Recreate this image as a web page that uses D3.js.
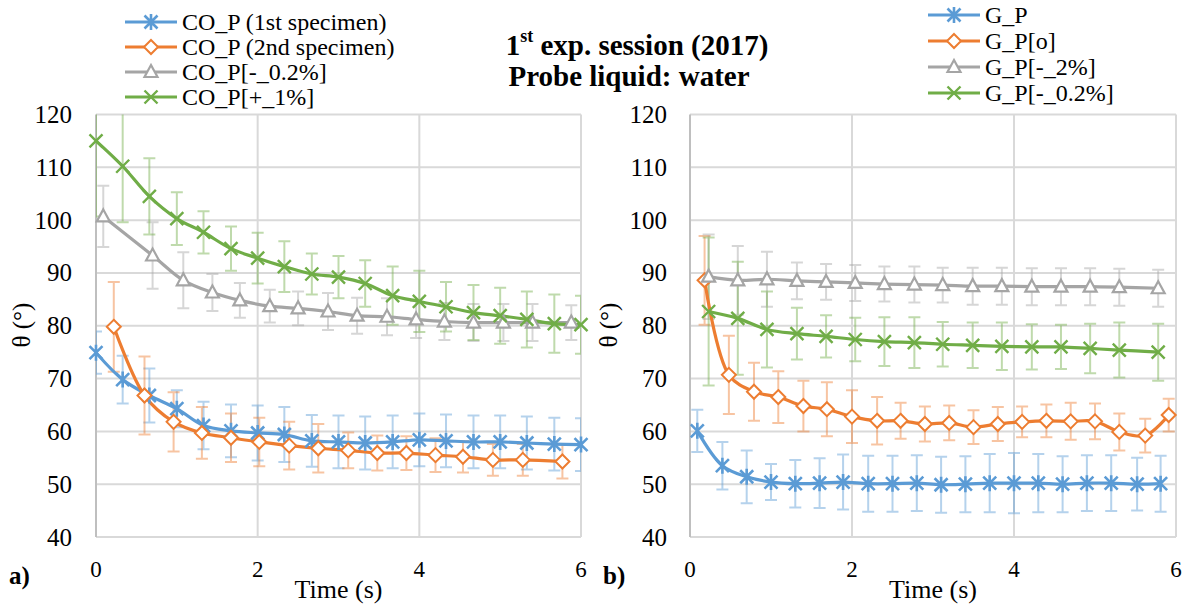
<!DOCTYPE html>
<html><head><meta charset="utf-8">
<script src="https://cdn.jsdelivr.net/npm/d3@7"></script>
<style>body{margin:0;background:#fff}svg{display:block}text{font-family:"Liberation Serif","Times New Roman",serif;fill:#000}</style>
</head><body><svg id="c" width="1189" height="605" font-family="Liberation Serif, Times New Roman, serif"></svg>
<script>
// ---------- data ----------
const xTicks = [0, 2, 4, 6];
const yTicks = [40, 50, 60, 70, 80, 90, 100, 110, 120];

// panel a)
const coP1_x = [0,0.33,0.66,1,1.33,1.67,2,2.33,2.67,3,3.33,3.67,4,4.33,4.67,5,5.33,5.67,6];
const coP1_y = [74.9,69.8,66.8,64.3,61.1,60.1,59.7,59.4,58.2,58.0,57.8,58.0,58.4,58.2,58.0,58.0,57.8,57.6,57.5];
const coP1_e = [4,4.5,5.1,3.5,4.5,5,5.2,5.2,4.9,5,5,5,5,5,5,5,5,5,5];

const coP2_x = [0.22,0.6,0.96,1.31,1.67,2.02,2.39,2.75,3.12,3.48,3.84,4.2,4.54,4.91,5.28,5.77];
const coP2_y = [79.8,66.8,61.8,59.7,58.8,58.0,57.3,56.8,56.4,55.9,55.9,55.5,55.2,54.6,54.6,54.3];
const coP2_e = [8.5,7.4,5.6,4.9,4.6,4.6,4.5,4.6,3.4,3.3,3.2,3.2,3,3,3,3.2];

const coPm02_x = [0.09,0.7,1.08,1.44,1.78,2.15,2.5,2.87,3.23,3.6,3.96,4.31,4.67,5.04,5.4,5.88];
const coPm02_y = [100.7,93.3,88.6,86.3,84.8,83.7,83.3,82.7,81.9,81.7,81.2,80.8,80.6,80.6,80.6,80.6];
const coPm02_e = [5.8,6.3,5.3,3.5,3.3,3.1,3.2,3.5,3.4,3.5,3.5,3.5,3.5,3.5,3.5,3.3];

const coPp1_x = [0,0.33,0.66,1,1.33,1.67,2,2.33,2.67,3,3.33,3.67,4,4.33,4.67,5,5.33,5.67,6];
const coPp1_y = [115,110.2,104.5,100.3,97.7,94.6,92.8,91.2,89.8,89.2,88,85.7,84.6,83.6,82.5,81.9,81.2,80.4,80.2];
const coPp1_e = [14.3,10.6,7.2,5,4,4.2,4.8,4.8,3.9,4,4.4,5.5,5.8,4.7,5.2,5.3,5.3,5.5,5.5];

// panel b)
const gP_x = [0.09,0.4,0.7,1.0,1.3,1.6,1.89,2.2,2.5,2.8,3.1,3.4,3.7,4.0,4.3,4.6,4.9,5.2,5.52,5.81];
const gP_y = [60.1,53.5,51.4,50.4,50.1,50.2,50.4,50.1,50.1,50.2,49.9,50.0,50.2,50.2,50.2,50.0,50.2,50.2,50.0,50.1];
const gP_e = [4,4.5,5,3.4,4.5,4.7,5.2,5.3,5.3,5.3,5.3,5.3,5.5,5.7,5.5,5.3,5.3,5.3,5,5.3];

const gPo_x = [0.18,0.48,0.79,1.09,1.4,1.69,2.0,2.31,2.6,2.9,3.2,3.5,3.8,4.1,4.4,4.7,5.0,5.3,5.62,5.91];
const gPo_y = [88.6,70.7,67.5,66.5,64.8,64.2,62.8,62.0,62.0,61.4,61.6,60.8,61.4,61.8,62.0,61.9,61.9,59.9,59.2,63.1];
const gPo_e = [8.4,7.4,5.5,4.9,4.8,5.1,5,4.5,3.4,3.3,3.3,3.2,3.2,2.9,3.1,3.5,3.4,3.5,3.2,3.1];

const gPm2_x = [0.23,0.59,0.95,1.32,1.68,2.04,2.4,2.77,3.12,3.49,3.85,4.22,4.58,4.94,5.3,5.78];
const gPm2_y = [89.3,88.6,88.8,88.5,88.3,88.1,87.9,87.8,87.7,87.5,87.5,87.4,87.4,87.4,87.3,87.1];
const gPm2_e = [8,6.5,5.2,3.5,3.4,3.4,3.3,3.4,3.3,3.5,3.5,3.5,3.5,3.5,3.5,3.5];

const gPm02_x = [0.23,0.59,0.95,1.32,1.68,2.04,2.4,2.77,3.12,3.49,3.85,4.22,4.58,4.94,5.3,5.78];
const gPm02_y = [82.7,81.4,79.3,78.5,78.0,77.4,77.0,76.8,76.5,76.3,76.1,76.0,76.0,75.7,75.4,75.0];
const gPm02_e = [14,10.7,7.2,4.9,4,4.1,4.6,4.8,4.2,4.3,4.5,4.3,4.2,4.7,5.2,5.4];

const namesA = ["CO_P (1st specimen)", "CO_P (2nd specimen)", "CO_P[-_0.2%]", "CO_P[+_1%]"];
const namesB = ["G_P", "G_P[o]", "G_P[-_2%]", "G_P[-_0.2%]"];
const colors = ["#5B9BD5", "#ED7D31", "#A5A5A5", "#70AD47"];
const markers = ["star", "diamond", "triangle", "x"];

const seriesA = [[coP1_x,coP1_y,coP1_e],[coP2_x,coP2_y,coP2_e],[coPm02_x,coPm02_y,coPm02_e],[coPp1_x,coPp1_y,coPp1_e]];
const seriesB = [[gP_x,gP_y,gP_e],[gPo_x,gPo_y,gPo_e],[gPm2_x,gPm2_y,gPm2_e],[gPm02_x,gPm02_y,gPm02_e]];

// ---------- drawing ----------
const FONT = "Liberation Serif, Times New Roman, serif";
const svg = d3.select("#c");

function drawMarker(g, type, cx, cy, color) {
  const s = 6.5;
  if (type === "star") {
    const p = d3.path();
    p.moveTo(cx - s, cy - s); p.lineTo(cx + s, cy + s);
    p.moveTo(cx - s, cy + s); p.lineTo(cx + s, cy - s);
    p.moveTo(cx, cy - s - 1.5); p.lineTo(cx, cy + s + 1.5);
    g.append("path").attr("d", p.toString()).attr("stroke", color).attr("stroke-width", 2.6).attr("fill", "none");
  } else if (type === "x") {
    const p = d3.path();
    p.moveTo(cx - s, cy - s); p.lineTo(cx + s, cy + s);
    p.moveTo(cx - s, cy + s); p.lineTo(cx + s, cy - s);
    g.append("path").attr("d", p.toString()).attr("stroke", color).attr("stroke-width", 2.4).attr("fill", "none");
  } else if (type === "diamond") {
    const d = 7;
    g.append("path").attr("d", `M${cx},${cy-d}L${cx+d},${cy}L${cx},${cy+d}L${cx-d},${cy}Z`)
      .attr("stroke", color).attr("stroke-width", 2).attr("fill", "#fff");
  } else if (type === "triangle") {
    g.append("path").attr("d", `M${cx},${cy-7}L${cx+6.5},${cy+5}L${cx-6.5},${cy+5}Z`)
      .attr("stroke", color).attr("stroke-width", 2.2).attr("fill", "#fff");
  }
}

function panel(id, x0, x1, series, label, yLabelX, yAxisLabelX, labelX) {
  const x = d3.scaleLinear().domain([0, 6]).range([x0, x1]);
  const y = d3.scaleLinear().domain([40, 120]).range([537, 114.5]);
  const g = svg.append("g").attr("font-family", FONT);

  g.append("defs").append("clipPath").attr("id", "clip" + id)
    .append("rect").attr("x", x0).attr("y", y(120)).attr("width", x1 - x0).attr("height", y(40) - y(120));

  // gridlines
  g.append("g").selectAll("line").data(yTicks).join("line")
    .attr("x1", x0).attr("x2", x1).attr("y1", d => y(d)).attr("y2", d => y(d))
    .attr("stroke", "#d9d9d9").attr("stroke-width", 2);
  g.append("g").selectAll("line").data(xTicks.slice(1)).join("line")
    .attr("x1", d => x(d)).attr("x2", d => x(d)).attr("y1", y(120)).attr("y2", y(40))
    .attr("stroke", "#d9d9d9").attr("stroke-width", 2);
  g.append("line").attr("x1", x0).attr("x2", x0).attr("y1", y(120)).attr("y2", y(40))
    .attr("stroke", "#bfbfbf").attr("stroke-width", 2);

  // tick labels
  g.append("g").selectAll("text").data(yTicks).join("text")
    .attr("x", yLabelX).attr("y", d => y(d)).attr("dy", "0.34em").attr("text-anchor", "end")
    .attr("font-size", 25).text(d => d);
  g.append("g").selectAll("text").data(xTicks).join("text")
    .attr("x", d => x(d)).attr("y", 577).attr("text-anchor", "middle")
    .attr("font-size", 23).text(d => d);
  g.append("text").attr("x", (x0 + x1) / 2).attr("y", 598).attr("text-anchor", "middle")
    .attr("font-size", 26).text("Time (s)");
  g.append("text").attr("transform", `translate(${yAxisLabelX},325) rotate(-90)`)
    .attr("text-anchor", "middle").attr("font-size", 25).text("θ (°)");
  g.append("text").attr("x", labelX).attr("y", 584).attr("font-size", 25).attr("font-weight", "bold").text(label);

  const plot = g.append("g").attr("clip-path", `url(#clip${id})`);
  // error bars
  series.forEach((s, i) => {
    const [xs, ys, es] = s;
    const eg = plot.append("g").attr("stroke", colors[i]).attr("stroke-opacity", 0.45).attr("stroke-width", 2).attr("fill", "none");
    xs.forEach((xv, k) => {
      const cx = x(xv), t = y(ys[k] + es[k]), b = y(ys[k] - es[k]);
      eg.append("path").attr("d", `M${cx},${t}L${cx},${b}M${cx-6},${t}L${cx+6},${t}M${cx-6},${b}L${cx+6},${b}`);
    });
  });
  // lines and markers
  series.forEach((s, i) => {
    const [xs, ys] = s;
    const pts = xs.map((xv, k) => [x(xv), y(ys[k])]);
    plot.append("path").attr("d", d3.line().curve(d3.curveCatmullRom.alpha(0.5))(pts))
      .attr("stroke", colors[i]).attr("stroke-width", 3.2).attr("fill", "none");
  });
  series.forEach((s, i) => {
    const [xs, ys] = s;
    const mg = g.append("g");
    xs.forEach((xv, k) => drawMarker(mg, markers[i], x(xv), y(ys[k]), colors[i]));
  });
}

panel("a", 96, 581, seriesA, "a)", 72, 30, 9);
panel("b", 690, 1176, seriesB, "b)", 667, 617, 603);

// legends
function legend(names, lx0, lx1, tx, ys) {
  const g = svg.append("g").attr("font-family", FONT);
  names.forEach((n, i) => {
    g.append("line").attr("x1", lx0).attr("x2", lx1).attr("y1", ys[i]).attr("y2", ys[i])
      .attr("stroke", colors[i]).attr("stroke-width", 3.2);
    drawMarker(g, markers[i], (lx0 + lx1) / 2, ys[i], colors[i]);
    g.append("text").attr("x", tx).attr("y", ys[i]).attr("dy", "0.34em").attr("font-size", 24).text(n);
  });
}
legend(namesA, 125, 177, 182, [22, 47, 72, 97]);
legend(namesB, 928, 980, 985, [15, 41, 67, 93]);

// title
const t1 = svg.append("text").attr("font-family", FONT).attr("x", 637).attr("y", 55).attr("text-anchor", "middle")
  .attr("font-size", 29).attr("font-weight", "bold");
t1.append("tspan").text("1");
t1.append("tspan").attr("font-size", 18).attr("dy", -13).text("st");
t1.append("tspan").attr("dy", 13).text(" exp. session (2017)");
svg.append("text").attr("font-family", FONT).attr("x", 629).attr("y", 86).attr("text-anchor", "middle")
  .attr("font-size", 29).attr("font-weight", "bold").text("Probe liquid: water");
</script></body></html>
